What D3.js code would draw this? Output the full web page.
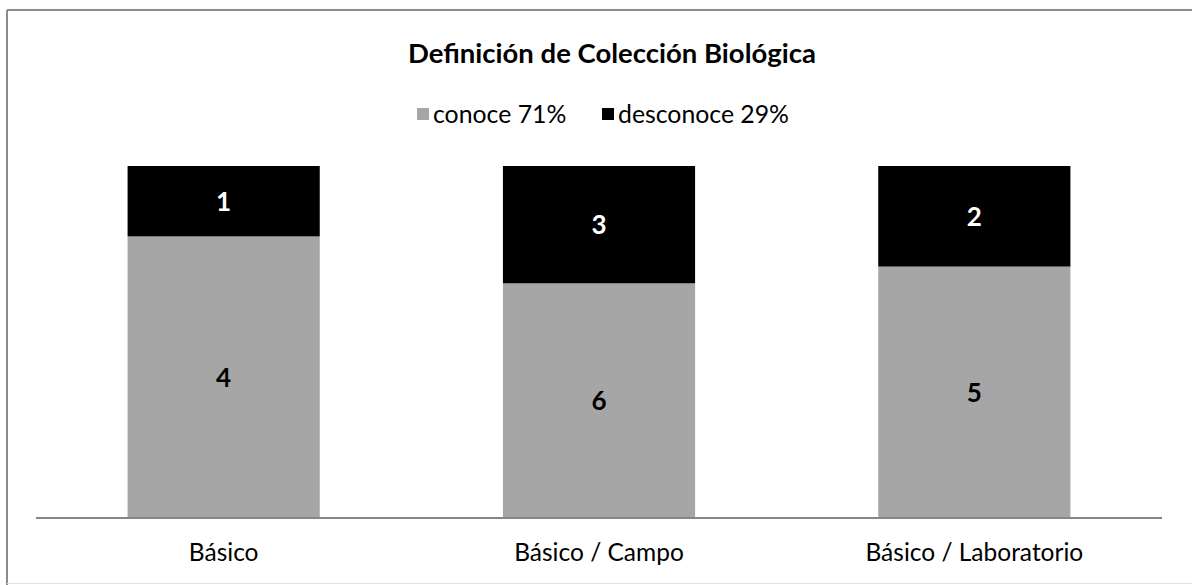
<!DOCTYPE html>
<html>
<head>
<meta charset="utf-8">
<script src="https://cdn.jsdelivr.net/npm/d3@7"></script>
<style>
  body { margin: 0; background: #fff; }
  svg { display: block; font-family: Lato, "Open Sans", sans-serif; }
</style>
</head>
<body>
<svg id="chart" width="1192" height="585"></svg>
<script>
const categories = ["Básico", "Básico / Campo", "Básico / Laboratorio"];
const conoce = [4, 6, 5];
const desconoce = [1, 3, 2];
const seriesNames = ["conoce 71%", "desconoce 29%"];
const seriesColors = ["#a6a6a6", "#000000"];

const width = 1192, height = 585;
const plot = { left: 36, right: 1162, top: 166, bottom: 518 };

const svg = d3.select("#chart");

// frame
svg.append("line").attr("x1", 7).attr("x2", width).attr("y1", 10).attr("y2", 10)
  .attr("stroke", "#8c8c8c").attr("stroke-width", 2);
svg.append("line").attr("x1", 7).attr("x2", 7).attr("y1", 10).attr("y2", height)
  .attr("stroke", "#8c8c8c").attr("stroke-width", 2);
svg.append("line").attr("x1", 7).attr("x2", width).attr("y1", 583.5).attr("y2", 583.5)
  .attr("stroke", "#e0e0e0").attr("stroke-width", 1);

const rows = categories.map((c, i) => ({ cat: c, conoce: conoce[i], desconoce: desconoce[i] }));
const stack = d3.stack().keys(["conoce", "desconoce"]).offset(d3.stackOffsetExpand);
const layers = stack(rows);

const x = d3.scaleBand().domain(categories).range([plot.left, plot.right])
  .paddingInner(0.488).paddingOuter(0.244);
const y = d3.scaleLinear().domain([0, 1]).range([plot.bottom, plot.top]);

const g = svg.append("g");
layers.forEach((layer, li) => {
  g.append("g").selectAll("rect").data(layer).join("rect")
    .attr("x", d => x(d.data.cat))
    .attr("width", x.bandwidth())
    .attr("y", d => y(d[1]))
    .attr("height", d => y(d[0]) - y(d[1]))
    .attr("fill", seriesColors[li]);
  g.append("g").selectAll("text").data(layer).join("text")
    .attr("x", d => x(d.data.cat) + x.bandwidth() / 2)
    .attr("y", d => (y(d[0]) + y(d[1])) / 2)
    .attr("dy", "0.36em")
    .attr("text-anchor", "middle")
    .attr("font-size", 26)
    .attr("font-weight", "bold")
    .attr("fill", li === 0 ? "#000" : "#fff")
    .text(d => d.data[layer.key]);
});

// axis
const axis = svg.append("g").attr("transform", `translate(0,${plot.bottom})`)
  .call(d3.axisBottom(x).tickSize(0).tickPadding(26));
axis.select(".domain").attr("stroke", "#868686").attr("stroke-width", 2)
  .attr("d", `M${plot.left},0H${plot.right}`);
axis.selectAll("text").attr("font-size", 24.5).attr("font-family", "Lato, 'Open Sans', sans-serif")
  .attr("fill", "#000");

// title
svg.append("text").attr("x", 612).attr("y", 63).attr("text-anchor", "middle")
  .attr("font-size", 27.5).attr("font-weight", "bold").attr("fill", "#000")
  .text("Definición de Colección Biológica");

// legend
const legendItems = [
  { name: seriesNames[0], color: seriesColors[0], x: 417 },
  { name: seriesNames[1], color: seriesColors[1], x: 602 }
];
const lg = svg.append("g").selectAll("g").data(legendItems).join("g")
  .attr("transform", d => `translate(${d.x},123)`);
lg.append("rect").attr("x", 0).attr("y", -15).attr("width", 12).attr("height", 12)
  .attr("fill", d => d.color);
lg.append("text").attr("x", 16).attr("y", 0)
  .attr("font-size", 24.8).attr("fill", "#000").text(d => d.name);
</script>
</body>
</html>
